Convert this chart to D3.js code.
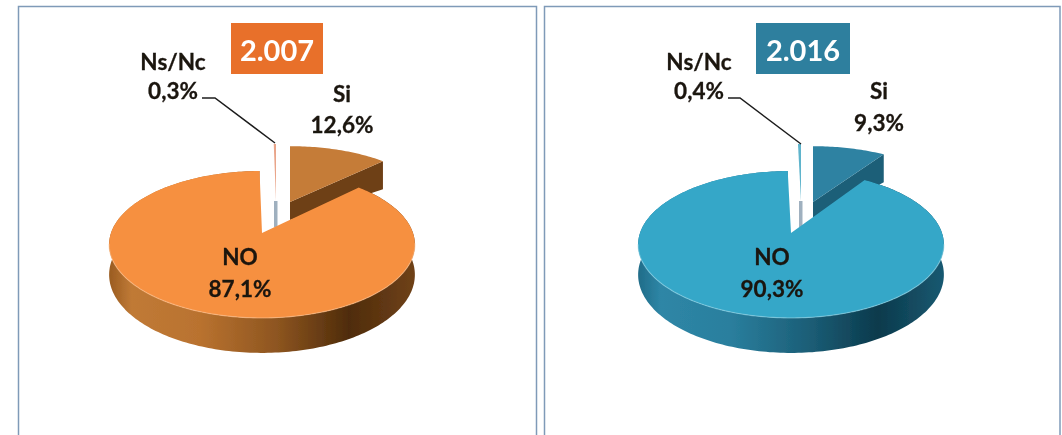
<!DOCTYPE html>
<html><head><meta charset="utf-8">
<script src="https://cdn.jsdelivr.net/npm/d3@7/dist/d3.min.js"></script>
<style>html,body{margin:0;padding:0;background:#fff;overflow:hidden}</style>
</head><body><svg id="c" width="1062" height="435"></svg>
<script>
const categories = ["Si", "NO", "Ns/Nc"];
const values2007 = [12.6, 87.1, 0.3];
const values2016 = [9.3, 90.3, 0.4];
const labels2007 = ["12,6%", "87,1%", "0,3%"];
const labels2016 = ["9,3%", "90,3%", "0,4%"];

const svg = d3.select("#c");
const defs = svg.append("defs");
defs.append("filter").attr("id","soft").attr("x","-5%").attr("y","-5%").attr("width","110%").attr("height","110%")
  .append("feGaussianBlur").attr("stdDeviation",0.7);
const root = svg.append("g").attr("filter","url(#soft)");

function gradient(id, stops, x1, x2){
  const g = defs.append("linearGradient").attr("id",id).attr("gradientUnits","userSpaceOnUse")
    .attr("x1",x1).attr("x2",x2).attr("y1",0).attr("y2",0);
  stops.forEach(([o,c])=>g.append("stop").attr("offset",o).attr("stop-color",c));
  return `url(#${id})`;
}

const K = 0.156, A = 151, B = 71.7;
function project(theta, r){
  const u = r*Math.sin(theta), v = -r*Math.cos(theta), w = 1 - K*v;
  return {X: A*u/w, Y: B*v/w, w};
}
const line = d3.line().x(d=>d[0]).y(d=>d[1]);
function sweep(a0,a1){
  const n = Math.max(2, Math.ceil((a1-a0)/0.02));
  return d3.range(n+1).map(i=>a0+(a1-a0)*i/n);
}

function drawPie(cfg){
  const pie = d3.pie().sort(null).value(d=>d)(cfg.values);
  const [si, no, ns] = pie;
  const g = root.append("g");
  const wallFill = gradient(cfg.id+"wall", cfg.wallStops, cfg.ax-155, cfg.ax+155);

  // exploded Si wedge
  const sa = cfg.siApex, sx = 0.96, sy = 0.9, siD = r => 18 + 10*r;
  const siArc = sweep(si.startAngle, si.endAngle).map(t=>{const p=project(t,1);return [sa[0]+p.X*sx, sa[1]+p.Y*sy];});
  const endP = project(si.endAngle,1);
  const tip = [sa[0]+endP.X*sx, sa[1]+endP.Y*sy];
  g.append("path").attr("d", line([sa, tip, [tip[0],tip[1]+siD(1)], [sa[0],sa[1]+siD(0)]])+"Z").attr("fill",cfg.siWall);
  g.append("path").attr("d", line([sa,...siArc])+"Z").attr("fill",cfg.siTop);

  // exploded Ns/Nc sliver
  const na = cfg.nsApex;
  const nsArc = sweep(ns.startAngle, ns.endAngle).map(t=>{const p=project(t,1);return [na[0]+p.X*0.92, na[1]+p.Y*0.92];});
  g.append("path").attr("d", line([na, [na[0]+1.5,na[1]], [na[0]+1.5,na[1]+26],[na[0]-2,na[1]+26],[na[0]-2,na[1]]])+"Z").attr("fill","#9fb0bf");
  g.append("path").attr("d", line([na,...nsArc])+"Z").attr("fill",cfg.nsTop);

  // main NO slice: wall then top
  const angles = sweep(no.startAngle, no.endAngle);
  const depth = 29.5;
  const topPts = angles.map(t=>{const p=project(t,1);return [cfg.ax+p.X, cfg.ay+p.Y];});
  const botPts = angles.map(t=>{const p=project(t,1);return [cfg.ax+p.X, cfg.ay+p.Y+depth/p.w];});
  g.append("path").attr("d", line([...topPts, ...botPts.reverse()])+"Z").attr("fill",wallFill);
  g.append("path").attr("d", line([[cfg.ax,cfg.ay],...topPts])+"Z").attr("fill",cfg.noTop);
  g.append("path").attr("d", line(topPts.filter(p=>p[1]>cfg.ay+10))).attr("fill","none").attr("stroke",cfg.rim).attr("stroke-width",1.2).attr("opacity",0.55);

  // title box
  g.append("rect").attr("x",cfg.box[0]).attr("y",23).attr("width",cfg.box[1]-cfg.box[0]).attr("height",51).attr("fill",cfg.boxFill);
  g.append("text").attr("x",(cfg.box[0]+cfg.box[1])/2).attr("y",61).attr("text-anchor","middle")
    .attr("font-size",29).attr("font-weight",700).attr("fill","#fff").text(cfg.year);

  // leader line
  g.append("path").attr("d", line(cfg.leader)).attr("fill","none").attr("stroke","#1c1c1c").attr("stroke-width",1.5);

  // labels
  const text = (x,y,s)=>g.append("text").attr("x",x).attr("y",y).attr("text-anchor","middle")
    .attr("font-size",22.5).attr("font-weight",700).attr("fill","#1a1410").attr("stroke","#1a1410").attr("stroke-width",0.3).text(s);
  const L = cfg.labelPos;
  categories.forEach((c,i)=>{
    text(L[i][0], L[i][1], c);
    text(L[i][0], L[i][2], cfg.labels[i]);
  });
}

root.append("rect").attr("x",18.5).attr("y",6.5).attr("width",518).attr("height",440).attr("fill","#fff").attr("stroke","#7f9ab8").attr("stroke-width",1.5);
root.append("rect").attr("x",544.5).attr("y",6.5).attr("width",515.5).attr("height",440).attr("fill","#fff").attr("stroke","#7f9ab8").attr("stroke-width",1.5);

drawPie({id:"a", year:"2.007", values:values2007, labels:labels2007, ax:262, ay:233,
  siApex:[290,202], nsApex:[276,201], box:[231,323], boxFill:"#E8702A",
  noTop:"#F69041", rim:"#FFC08A", siTop:"#C57B38", siWall:"#6E3F13", nsTop:"#E9A58A",
  wallStops:[[0,"#96591f"],[0.08,"#c07a36"],[0.3,"#b9722f"],[0.55,"#8d5520"],[0.78,"#4f2c0a"],[1,"#70421a"]],
  leader:[[202,98],[215,98],[275,143]],
  labelPos:[[342,102,133],[240,265,297],[173,70,99]]});

drawPie({id:"b", year:"2.016", values:values2016, labels:labels2016, ax:791, ay:233,
  siApex:[813,202], nsApex:[801,201], box:[756,850], boxFill:"#2E7F9E",
  noTop:"#36A7C8", rim:"#8FD6E8", siTop:"#2F82A2", siWall:"#1C5F78", nsTop:"#5FB4CC",
  wallStops:[[0,"#1f6a86"],[0.08,"#2e86a6"],[0.3,"#2a7f9e"],[0.55,"#1c5f78"],[0.78,"#0b3a4c"],[1,"#1a5a72"]],
  leader:[[728,98],[740,98],[801,144]],
  labelPos:[[879,99,131],[772,265,297],[699,70,99]]});

root.selectAll("text").attr("font-family","Lato, 'Open Sans', sans-serif");
</script></body></html>
